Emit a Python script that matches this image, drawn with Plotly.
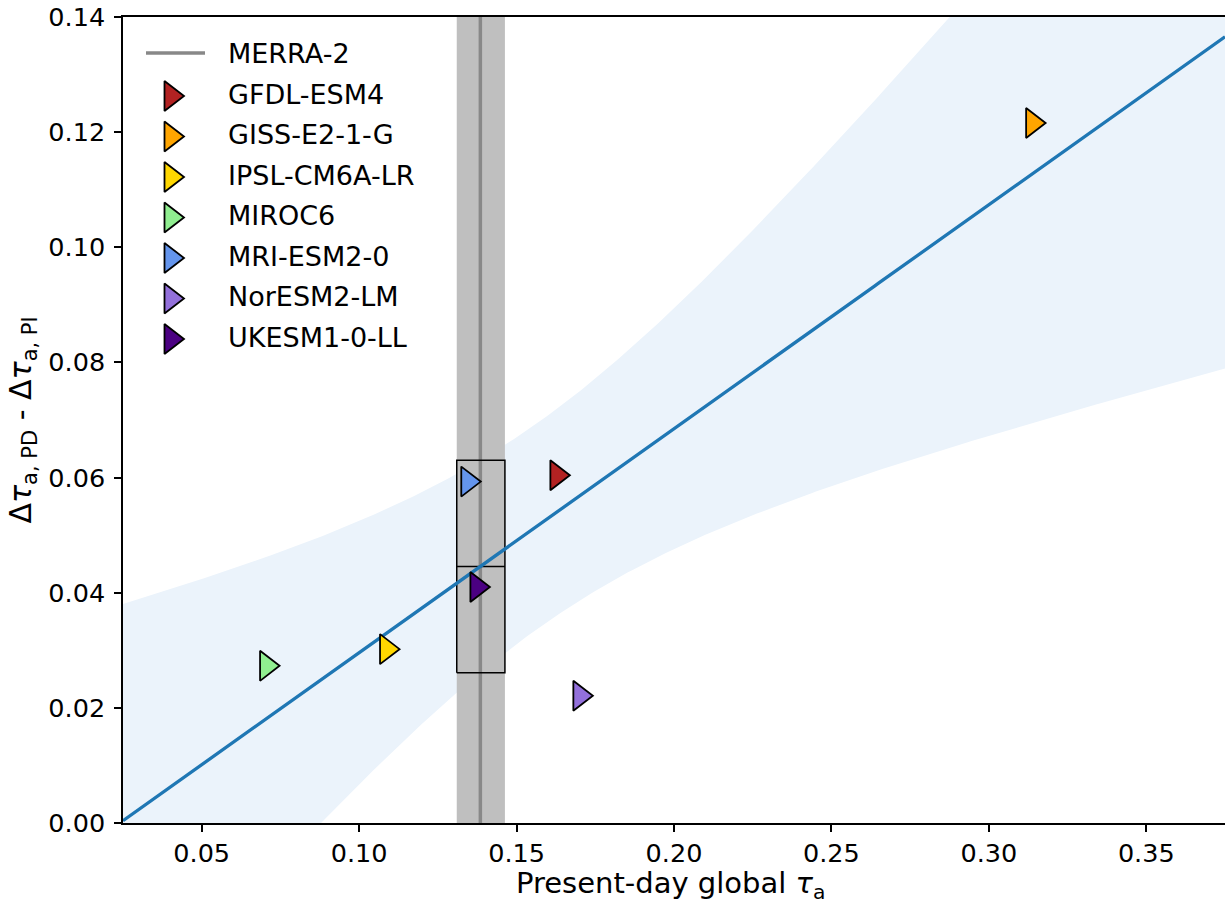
import numpy as np
import plotly.graph_objects as go

# ---------------- data ----------------
models = ["GFDL-ESM4", "GISS-E2-1-G", "IPSL-CM6A-LR", "MIROC6",
          "MRI-ESM2-0", "NorESM2-LM", "UKESM1-0-LL"]
tau_pd = [0.1628, 0.3139, 0.1087, 0.0706, 0.1345, 0.1701, 0.1374]
dtau = [0.0604, 0.1216, 0.0302, 0.0273, 0.0593, 0.0221, 0.0410]
colors = ["#b22222", "#ffa500", "#ffd700", "#90ee90",
          "#6495ed", "#9370db", "#4b0082"]

merra_tau = 0.1385
merra_lo = 0.1310
merra_hi = 0.1463

x_range = [0.025, 0.375]
y_range = [0.0, 0.14]
x_ticks = [0.05, 0.10, 0.15, 0.20, 0.25, 0.30, 0.35]
y_ticks = [0.00, 0.02, 0.04, 0.06, 0.08, 0.10, 0.12, 0.14]

# ---------------- regression + 95% CI ----------------
x = np.array(tau_pd)
y = np.array(dtau)
n = len(x)
slope, intercept = np.polyfit(x, y, 1)
resid = y - (intercept + slope * x)
s = np.sqrt(np.sum(resid ** 2) / (n - 2))
sxx = np.sum((x - x.mean()) ** 2)
t_crit = 2.5706  # Student t, 95%, df = 5


def fit(xv):
    return intercept + slope * xv


def ci(xv):
    return t_crit * s * np.sqrt(1.0 / n + (xv - x.mean()) ** 2 / sxx)


xg = np.linspace(x_range[0], x_range[1], 300)
yg = fit(xg)
cg = ci(xg)

box_mid = fit(merra_tau)
box_half = ci(merra_tau)

FONT = "DejaVu Sans"
MSIZE = 26
fig = go.Figure()

# CI band
fig.add_trace(go.Scatter(
    x=np.concatenate([xg, xg[::-1]]),
    y=np.concatenate([yg + cg, (yg - cg)[::-1]]),
    fill="toself", fillcolor="rgb(235,243,251)",
    line=dict(width=0), mode="lines", hoverinfo="skip", showlegend=False))

# MERRA-2 uncertainty band
fig.add_trace(go.Scatter(
    x=[merra_lo, merra_hi, merra_hi, merra_lo, merra_lo],
    y=[y_range[0], y_range[0], y_range[1], y_range[1], y_range[0]],
    fill="toself", fillcolor="#bfbfbf", line=dict(width=0),
    mode="lines", hoverinfo="skip", showlegend=False))

# MERRA-2 line
fig.add_trace(go.Scatter(
    x=[merra_tau, merra_tau], y=y_range, mode="lines",
    line=dict(color="#888888", width=3.5), showlegend=False))

# box (CI at MERRA-2 value)
fig.add_trace(go.Scatter(
    x=[merra_lo, merra_hi, merra_hi, merra_lo, merra_lo, None, merra_lo, merra_hi],
    y=[box_mid - box_half, box_mid - box_half, box_mid + box_half,
       box_mid + box_half, box_mid - box_half, None, box_mid, box_mid],
    mode="lines", line=dict(color="black", width=1.5), showlegend=False))

# regression line
fig.add_trace(go.Scatter(
    x=xg, y=yg, mode="lines", line=dict(color="#1f77b4", width=3.3),
    showlegend=False))

# model points
for m, xv, yv, c in zip(models, tau_pd, dtau, colors):
    fig.add_trace(go.Scatter(
        x=[xv], y=[yv], mode="markers", name=m,
        marker=dict(symbol="triangle-right", size=MSIZE, color=c,
                    line=dict(color="black", width=1.8)),
        showlegend=False))

# ---------------- custom legend (overlay axes in pixel units) ----------------
plot_w, plot_h = 1102, 806
leg = dict(marker_x=48, line_x0=23, line_x1=82, text_x=103,
           merra_y=36, first_y=79, step=40.5, fs=27)

fig.add_trace(go.Scatter(
    x=[leg["line_x0"], leg["line_x1"]], y=[leg["merra_y"], leg["merra_y"]],
    xaxis="x2", yaxis="y2", mode="lines",
    line=dict(color="#888888", width=3.5), showlegend=False, hoverinfo="skip"))

annotations = [dict(x=leg["text_x"], y=leg["merra_y"], xref="x2", yref="y2",
                    text="MERRA-2", showarrow=False, xanchor="left",
                    yanchor="middle", font=dict(family=FONT, size=leg["fs"], color="black"))]
for i, (m, c) in enumerate(zip(models, colors)):
    yy = leg["first_y"] + i * leg["step"]
    fig.add_trace(go.Scatter(
        x=[leg["marker_x"]], y=[yy], xaxis="x2", yaxis="y2", mode="markers",
        marker=dict(symbol="triangle-right", size=MSIZE, color=c,
                    line=dict(color="black", width=1.8)),
        showlegend=False, hoverinfo="skip"))
    annotations.append(dict(x=leg["text_x"], y=yy - 2, xref="x2", yref="y2",
                            text=m, showarrow=False, xanchor="left",
                            yanchor="middle",
                            font=dict(family=FONT, size=leg["fs"], color="black")))

# axis titles
annotations.append(dict(
    x=0.497, y=-0.0765, xref="paper", yref="paper", showarrow=False,
    xanchor="center", yanchor="middle",
    text="Present-day global <i>τ</i><sub>a</sub>",
    font=dict(family=FONT, size=29, color="black")))
annotations.append(dict(
    x=-0.0921, y=0.5, xref="paper", yref="paper", showarrow=False,
    xanchor="center", yanchor="middle", textangle=-90,
    text="Δ<i>τ</i><sub>a, PD</sub> - Δ<i>τ</i><sub>a, PI</sub>",
    font=dict(family=FONT, size=30, color="black")))

fig.update_layout(
    width=1225, height=904,
    margin=dict(l=123, r=0, t=17, b=81),
    plot_bgcolor="white", paper_bgcolor="white",
    font=dict(family=FONT, color="black"),
    showlegend=False,
    annotations=annotations,
    xaxis=dict(range=x_range, tickvals=x_ticks, tickformat=".2f",
               ticks="outside", ticklen=7, tickwidth=1.5, tickcolor="black",
               showline=True, linewidth=1.5, linecolor="black", mirror=True,
               showgrid=False, zeroline=False,
               tickfont=dict(family=FONT, size=25.5, color="black")),
    yaxis=dict(range=y_range, tickvals=y_ticks, tickformat=".2f",
               ticks="outside", ticklen=7, tickwidth=1.5, tickcolor="black",
               showline=True, linewidth=1.5, linecolor="black",
               showgrid=False, zeroline=False, ticklabelstandoff=4,
               tickfont=dict(family=FONT, size=25.5, color="black")),
    xaxis2=dict(overlaying="x", anchor="y2", range=[0, plot_w], visible=False,
                fixedrange=True),
    yaxis2=dict(overlaying="y", anchor="x2", range=[plot_h, 0], visible=False,
                fixedrange=True),
)

fig.write_html("out.html",
               config={"displayModeBar": False},
               post_script="document.body.style.margin='0';"
                           "document.body.style.overflow='hidden';")
